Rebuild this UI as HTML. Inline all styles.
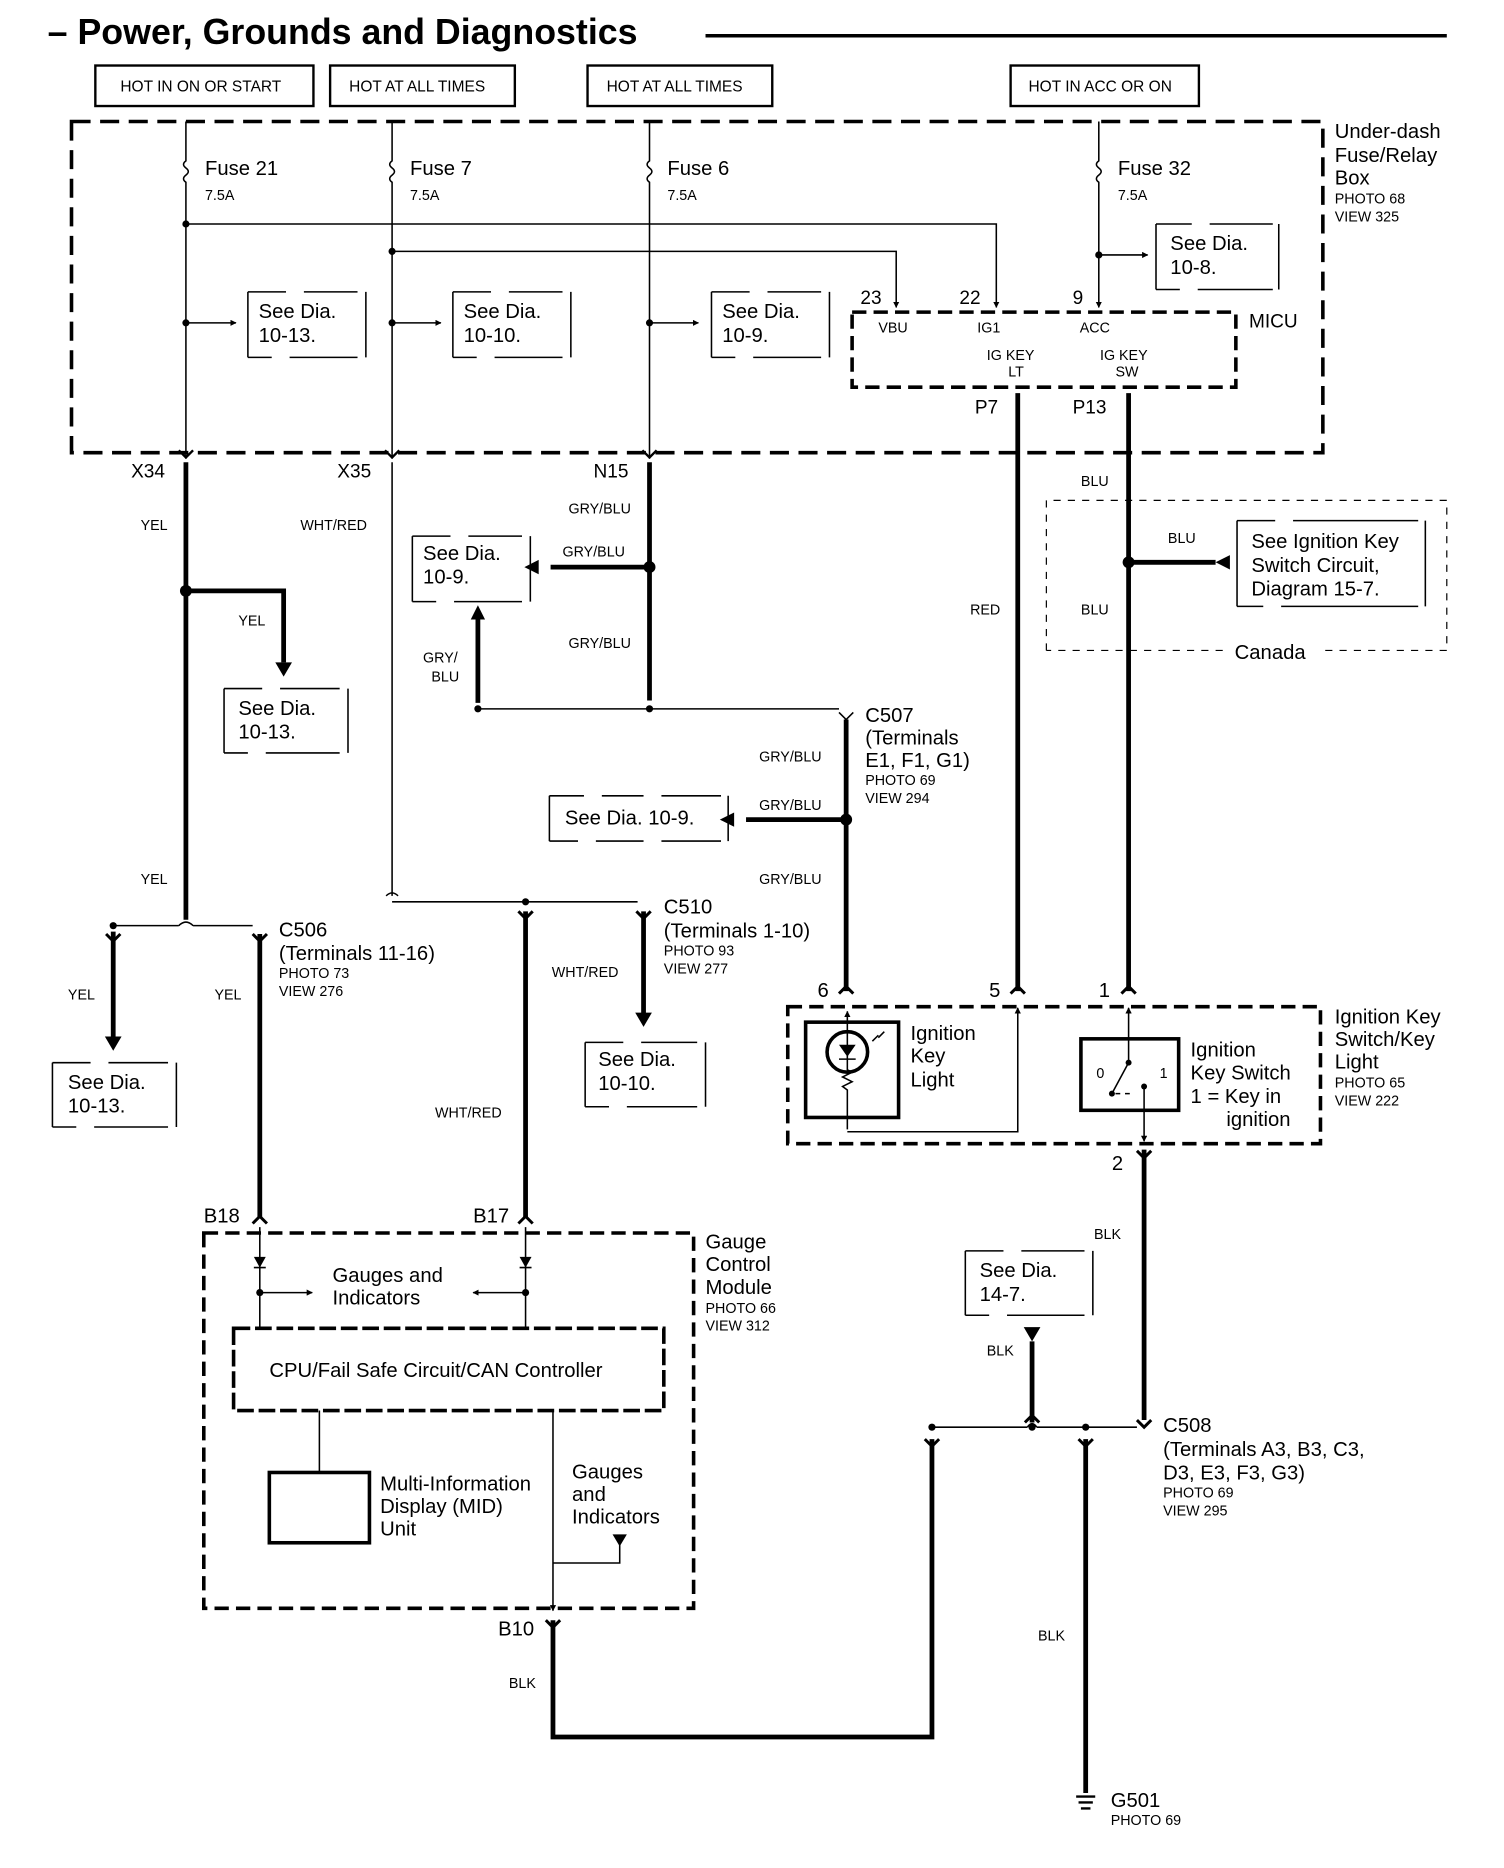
<!DOCTYPE html>
<html><head><meta charset="utf-8"><style>
html,body{margin:0;padding:0;background:#fff}
svg{display:block}
text{font-family:"Liberation Sans",Arial,sans-serif;fill:#000}
</style></head><body>
<svg width="1504" height="1868" viewBox="0 0 1262 1568" preserveAspectRatio="none" xmlns="http://www.w3.org/2000/svg">
<defs>
<marker id="ah" viewBox="0 0 10 10" refX="9" refY="5" markerWidth="4" markerHeight="4" orient="auto"><path d="M0,0L10,5L0,10z"/></marker>
</defs>
<g font-size="13">
<text x="40" y="37" font-size="30" font-weight="bold">– Power, Grounds and Diagnostics</text>
<line x1="592" y1="30" x2="1214" y2="30" stroke="#000" stroke-width="3"/>
<g fill="none" stroke="#000" stroke-width="2">
<rect x="80" y="55" width="183" height="34"/><rect x="277" y="55" width="155" height="34"/>
<rect x="493" y="55" width="155" height="34"/><rect x="848" y="55" width="158" height="34"/>
</g>
<text x="101" y="77">HOT IN ON OR START</text><text x="293" y="77">HOT AT ALL TIMES</text>
<text x="509" y="77">HOT AT ALL TIMES</text><text x="863" y="77">HOT IN ACC OR ON</text>
<rect x="60" y="102" width="1050" height="278" fill="none" stroke="#000" stroke-width="3" stroke-dasharray="16,8"/>
<g stroke="#000" stroke-width="1.3" fill="none">
<path d="M156,102V135 q-4,3 0,6 q4,3 0,6 q-4,3 0,6 V385"/>
<path d="M329,102V135 q-4,3 0,6 q4,3 0,6 q-4,3 0,6 V385"/>
<path d="M545,102V135 q-4,3 0,6 q4,3 0,6 q-4,3 0,6 V385"/>
<path d="M922,102V135 q-4,3 0,6 q4,3 0,6 q-4,3 0,6 V258" marker-end="url(#ah)"/>
<path d="M156,188H836V258" marker-end="url(#ah)"/>
<path d="M329,211H752V258" marker-end="url(#ah)"/>
<path d="M922,214H963" marker-end="url(#ah)"/>
<path d="M156,271H198" marker-end="url(#ah)"/><path d="M329,271H370" marker-end="url(#ah)"/><path d="M545,271H586" marker-end="url(#ah)"/>
</g>
<g fill="#000"><circle cx="156" cy="188" r="3"/><circle cx="329" cy="211" r="3"/><circle cx="922" cy="214" r="3"/>
<circle cx="156" cy="271" r="3"/><circle cx="329" cy="271" r="3"/><circle cx="545" cy="271" r="3"/></g>
<g font-size="17"><text x="172" y="147">Fuse 21</text><text x="344" y="147">Fuse 7</text><text x="560" y="147">Fuse 6</text><text x="938" y="147">Fuse 32</text></g>
<g font-size="12"><text x="172" y="168">7.5A</text><text x="344" y="168">7.5A</text><text x="560" y="168">7.5A</text><text x="938" y="168">7.5A</text></g>
<g stroke="#000" stroke-width="1.3" fill="none">
<path d="M208,245V300 M307,245V300 M208,245H240 M255,245H300 M208,300H228 M243,300H300"/>
<path d="M380,245V300 M479,245V300 M380,245H412 M427,245H472 M380,300H400 M415,300H472"/>
<path d="M597,245V300 M696,245V300 M597,245H629 M644,245H689 M597,300H617 M632,300H689"/>
<path d="M970,188V243 M1073,188V243 M970,188H1000 M1015,188H1068 M970,243H990 M1005,243H1068"/>
</g>
<g font-size="17"><text x="217" y="267">See Dia.</text><text x="217" y="287">10-13.</text>
<text x="389" y="267">See Dia.</text><text x="389" y="287">10-10.</text>
<text x="606" y="267">See Dia.</text><text x="606" y="287">10-9.</text>
<text x="982" y="210">See Dia.</text><text x="982" y="230">10-8.</text></g>
<rect x="715" y="262" width="322" height="63" fill="none" stroke="#000" stroke-width="3" stroke-dasharray="12,6"/>
<g font-size="16"><text x="722" y="255">23</text><text x="805" y="255">22</text><text x="900" y="255">9</text><text x="1048" y="275">MICU</text>
<text x="818" y="347">P7</text><text x="900" y="347">P13</text></g>
<g font-size="12"><text x="737" y="279">VBU</text><text x="820" y="279">IG1</text><text x="906" y="279">ACC</text>
<text x="828" y="302">IG KEY</text><text x="846" y="316">LT</text><text x="923" y="302">IG KEY</text><text x="936" y="316">SW</text></g>
<g font-size="17"><text x="1120" y="116">Under-dash</text><text x="1120" y="136">Fuse/Relay</text><text x="1120" y="155">Box</text></g>
<g font-size="12"><text x="1120" y="171">PHOTO 68</text><text x="1120" y="186">VIEW 325</text></g>
<g fill="none" stroke="#000" stroke-width="2">
<path d="M150,378l6,6l6,-6 M323,378l6,6l6,-6 M539,378l6,6l6,-6"/>
</g>
<g font-size="16"><text x="110" y="401">X34</text><text x="283" y="401">X35</text><text x="498" y="401">N15</text></g>
<g stroke="#000" stroke-width="4" fill="none">
<path d="M156,388V772"/>
<path d="M156,496H238V556"/>
<path d="M545,388V588"/>
<path d="M545,476H462"/>
<path d="M401,590V520"/>
<path d="M710,604V832"/>
<path d="M710,688H626"/>
<path d="M854,330V832"/><path d="M947,330V832"/>
<path d="M947,472H1020"/>
<path d="M95,782V872"/>
<path d="M218,784V1022"/>
<path d="M441,765V1022"/>
<path d="M540,765V852"/>
<path d="M960,965V1192"/>
<path d="M866,1194V1126"/>
<path d="M782,1208V1458H464V1360"/>
<path d="M911,1208V1505"/>
</g>
<g fill="#000">
<path d="M231,556h14l-7,12z"/><path d="M452,470v12l-12,-6z"/><path d="M395,520h12l-6,-12z"/><path d="M616,682v12l-12,-6z"/>
<path d="M1032,466v12l-12,-6z"/><path d="M88,870h14l-7,12z"/><path d="M533,850h14l-7,12z"/><path d="M859,1114h14l-7,12z"/>
<path d="M514,1288h12l-6,10z"/>
<circle cx="156" cy="496" r="5"/><circle cx="545" cy="476" r="5"/><circle cx="710" cy="688" r="5"/><circle cx="947" cy="472" r="5"/>
<circle cx="401" cy="595" r="3"/><circle cx="545" cy="595" r="3"/><circle cx="95" cy="777" r="3"/><circle cx="441" cy="757" r="3"/>
<circle cx="866" cy="1198" r="3"/><circle cx="911" cy="1198" r="3"/><circle cx="782" cy="1198" r="3"/>
<circle cx="218" cy="1085" r="3"/><circle cx="441" cy="1085" r="3"/>
</g>
<g stroke="#000" stroke-width="1.3" fill="none">
<path d="M329,388V752 M324,752q5,-5 10,0 M329,757H535"/>
<path d="M401,595H704 M704,598l6,6l6,-6"/>
<path d="M95,777H150 M150,777q6,-6 12,0 M162,777H212"/>
<path d="M782,1198H862 M862,1198q4,-6 8,0 M870,1198H954"/>
</g>
<g fill="none" stroke="#000" stroke-width="2.5">
<path d="M212,784l6,6l6,-6 M89,784l6,6l6,-6 M435,765l6,6l6,-6 M534,765l6,6l6,-6 M704,834l6,-6l6,6 M848,834l6,-6l6,6 M941,834l6,-6l6,6 M954,966l6,6l6,-6 M212,1027l6,-6l6,6 M435,1027l6,-6l6,6 M458,1360l6,6l6,-6 M776,1208l6,6l6,-6 M905,1208l6,6l6,-6 M860,1194l6,-6l6,6 M954,1192l6,6l6,-6"/>
</g>
<g font-size="12">
<text x="118" y="445">YEL</text><text x="200" y="525">YEL</text><text x="118" y="742">YEL</text><text x="57" y="839">YEL</text><text x="180" y="839">YEL</text>
<text x="252" y="445">WHT/RED</text><text x="463" y="820">WHT/RED</text><text x="365" y="938">WHT/RED</text>
<text x="477" y="431">GRY/BLU</text><text x="472" y="467">GRY/BLU</text><text x="477" y="544">GRY/BLU</text>
<text x="355" y="556">GRY/</text><text x="362" y="572">BLU</text>
<text x="637" y="639">GRY/BLU</text><text x="637" y="680">GRY/BLU</text><text x="637" y="742">GRY/BLU</text>
<text x="814" y="516">RED</text><text x="907" y="408">BLU</text><text x="980" y="456">BLU</text><text x="907" y="516">BLU</text>
<text x="918" y="1040">BLK</text><text x="828" y="1138">BLK</text><text x="427" y="1417">BLK</text><text x="871" y="1377">BLK</text>
</g>
<g stroke="#000" stroke-width="1.3" fill="none">
<path d="M346,450V505 M445,450V505 M346,450H378 M393,450H438 M346,505H366 M381,505H438"/>
<path d="M188,578V632 M292,578V632 M188,578H220 M235,578H285 M188,632H208 M223,632H285"/>
<path d="M44,892V946 M148,892V946 M44,892H76 M91,892H141 M44,946H64 M79,946H141"/>
<path d="M491,875V929 M592,875V929 M491,875H523 M538,875H585 M491,929H511 M526,929H585"/>
<path d="M461,668V706 M611,668V706 M461,668H490 M505,668H540 M555,668H605 M461,706H485 M500,706H540 M555,706H605"/>
<path d="M1038,437V509 M1196,437V509 M1038,437H1070 M1085,437H1190 M1038,509H1060 M1075,509H1190"/>
<path d="M810,1050V1104 M917,1050V1104 M810,1050H842 M857,1050H910 M810,1104H830 M845,1104H910"/>
</g>
<path d="M878,546V420H1214V546H1110 M1026,546H878" fill="none" stroke="#000" stroke-width="1" stroke-dasharray="6,6"/>
<g font-size="17">
<text x="355" y="470">See Dia.</text><text x="355" y="490">10-9.</text>
<text x="200" y="600">See Dia.</text><text x="200" y="620">10-13.</text>
<text x="57" y="914">See Dia.</text><text x="57" y="934">10-13.</text>
<text x="502" y="895">See Dia.</text><text x="502" y="915">10-10.</text>
<text x="474" y="692">See Dia. 10-9.</text>
<text x="1050" y="460">See Ignition Key</text><text x="1050" y="480">Switch Circuit,</text><text x="1050" y="500">Diagram 15-7.</text>
<text x="1036" y="553">Canada</text>
<text x="822" y="1072">See Dia.</text><text x="822" y="1092">14-7.</text>
<text x="726" y="606">C507</text><text x="726" y="625">(Terminals</text><text x="726" y="644">E1, F1, G1)</text>
<text x="234" y="786">C506</text><text x="234" y="806">(Terminals 11-16)</text>
<text x="557" y="767">C510</text><text x="557" y="787">(Terminals 1-10)</text>
<text x="976" y="1202">C508</text><text x="976" y="1222">(Terminals A3, B3, C3,</text><text x="976" y="1242">D3, E3, F3, G3)</text>
<text x="932" y="1517">G501</text>
<text x="686" y="837">6</text><text x="830" y="837">5</text><text x="922" y="837">1</text><text x="933" y="982">2</text>
<text x="171" y="1026">B18</text><text x="397" y="1026">B17</text><text x="418" y="1373">B10</text>
<text x="1120" y="859">Ignition Key</text><text x="1120" y="878">Switch/Key</text><text x="1120" y="897">Light</text>
<text x="592" y="1048">Gauge</text><text x="592" y="1067">Control</text><text x="592" y="1086">Module</text>
</g>
<g font-size="12">
<text x="726" y="659">PHOTO 69</text><text x="726" y="674">VIEW 294</text>
<text x="234" y="821">PHOTO 73</text><text x="234" y="836">VIEW 276</text>
<text x="557" y="802">PHOTO 93</text><text x="557" y="817">VIEW 277</text>
<text x="976" y="1257">PHOTO 69</text><text x="976" y="1272">VIEW 295</text>
<text x="932" y="1532">PHOTO 69</text>
<text x="1120" y="913">PHOTO 65</text><text x="1120" y="928">VIEW 222</text>
<text x="592" y="1102">PHOTO 66</text><text x="592" y="1117">VIEW 312</text>
</g>
<rect x="661" y="845" width="447" height="115" fill="none" stroke="#000" stroke-width="3" stroke-dasharray="12,6"/>
<rect x="676" y="858" width="78" height="80" fill="none" stroke="#000" stroke-width="3"/>
<circle cx="711" cy="883" r="17" fill="none" stroke="#000" stroke-width="3"/>
<path d="M704,877h14l-7,10z" fill="#000"/>
<g stroke="#000" stroke-width="1.3" fill="none">
<path d="M711,948V915 l-4,-3 l8,-4 l-8,-4 l8,-4 l-4,-2 V849" marker-end="url(#ah)"/>
<path d="M704,889h14"/>
<path d="M711,950H854V846" marker-end="url(#ah)"/>
<path d="M732,874l5,-5 M737,871l5,-5"/>
<path d="M947,890V846" marker-end="url(#ah)"/>
<path d="M960,912V958" marker-end="url(#ah)"/>
<path d="M933,918L947,892"/>
<path d="M936,918h4 M944,918h4"/>
</g>
<rect x="907" y="872" width="82" height="60" fill="none" stroke="#000" stroke-width="3"/>
<g fill="#000"><circle cx="947" cy="892" r="2.5"/><circle cx="933" cy="918" r="2.5"/><circle cx="960" cy="912" r="2.5"/></g>
<text x="920" y="905" font-size="12">0</text><text x="973" y="905" font-size="12">1</text>
<g font-size="17"><text x="764" y="873">Ignition</text><text x="764" y="892">Key</text><text x="764" y="912">Light</text>
<text x="999" y="887">Ignition</text><text x="999" y="906">Key Switch</text><text x="999" y="926">1 = Key in</text><text x="1029" y="945">ignition</text></g>
<rect x="171" y="1035" width="411" height="315" fill="none" stroke="#000" stroke-width="3" stroke-dasharray="12,6"/>
<rect x="196" y="1115" width="361" height="69" fill="none" stroke="#000" stroke-width="3" stroke-dasharray="14,4"/>
<rect x="226" y="1236" width="84" height="59" fill="none" stroke="#000" stroke-width="3"/>
<g stroke="#000" stroke-width="1.3" fill="none">
<path d="M218,1030V1115 M441,1030V1115"/>
<path d="M218,1085H262" marker-end="url(#ah)"/><path d="M441,1085H397" marker-end="url(#ah)"/>
<path d="M268,1184V1236"/>
<path d="M464,1184V1352" marker-end="url(#ah)"/>
<path d="M464,1312H520V1292"/>
</g>
<g fill="#000"><path d="M213,1055h10l-5,9z"/><path d="M436,1055h10l-5,9z"/></g>
<g stroke="#000" stroke-width="1.3"><path d="M213,1064h10 M436,1064h10"/></g>
<g font-size="17"><text x="279" y="1076">Gauges and</text><text x="279" y="1095">Indicators</text>
<text x="226" y="1156">CPU/Fail Safe Circuit/CAN Controller</text>
<text x="319" y="1251">Multi-Information</text><text x="319" y="1270">Display (MID)</text><text x="319" y="1289">Unit</text>
<text x="480" y="1241">Gauges</text><text x="480" y="1260">and</text><text x="480" y="1279">Indicators</text></g>
<g stroke="#000" stroke-width="2"><path d="M903,1508h16 M905,1513h12 M907,1518h8"/></g>
</g>
</svg>
</body></html>
